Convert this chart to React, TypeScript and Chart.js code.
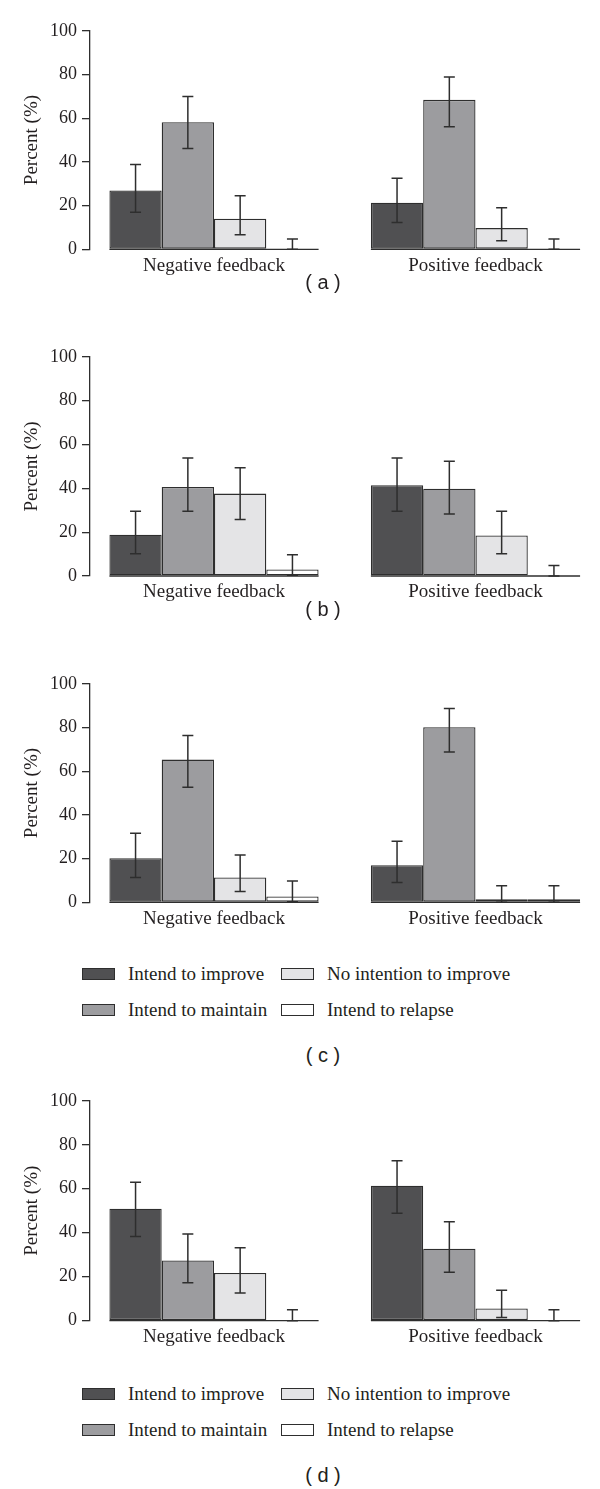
import React, { useEffect, useRef } from "react";
import { Chart, registerables } from "chart.js";

Chart.register(...registerables);

// ---------- data ----------
const categories = ["Negative feedback", "Positive feedback"];
const seriesNames = ["Intend to improve", "Intend to maintain", "No intention to improve", "Intend to relapse"];
const seriesColors = ["#505052", "#9c9c9f", "#e4e4e6", "#ffffff"];
const yTicks = [0, 20, 40, 60, 80, 100];

// order of series in each row: improve, maintain, no intention, relapse; each [negative, positive]
const valuesA = [[26.9, 21.3], [58.2, 68.4], [14.0, 9.7], [0, 0]];
const lowA = [[16.9, 12.3], [46.1, 56.1], [6.7, 3.9], [0, 0]];
const highA = [[38.8, 32.5], [69.9, 78.9], [24.5, 19.0], [4.7, 4.7]];

const valuesB = [[18.8, 41.4], [40.6, 39.8], [37.6, 18.5], [3.0, 0]];
const lowB = [[10.2, 29.5], [29.5, 28.3], [25.8, 10.1], [0.3, 0]];
const highB = [[29.5, 53.8], [53.8, 52.3], [49.4, 29.5], [9.7, 4.8]];

const valuesC = [[20.2, 17.0], [65.3, 80.1], [11.4, 1.4], [2.7, 1.4]];
const lowC = [[11.4, 9.1], [52.6, 68.8], [5.0, 0], [0.3, 0]];
const highC = [[31.6, 27.9], [76.3, 88.7], [21.6, 7.6], [9.7, 7.6]];

const valuesD = [[50.9, 61.4], [27.4, 32.7], [21.7, 5.6], [0, 0]];
const lowD = [[38.3, 48.9], [17.3, 22.0], [12.6, 1.4], [0, 0]];
const highD = [[63.0, 72.7], [39.4, 45.0], [33.2, 13.8], [5.0, 5.0]];

// ---------- layout ----------
const SERIF = "'Liberation Serif', 'DejaVu Serif', serif";
const SANS = "'Liberation Sans', Arial, sans-serif";
const INK = "#231f20";
const LINE = "#2e2e2e";
const GROUP_PCT = 0.8;
const X_MIN = -0.4742;
const X_MAX = 1.4379;
const PAD_TOP = 15;
const X_AXIS_H = 40;

const panels = [
  { values: valuesA, low: lowA, high: highA, plotTop: 30, plotBottom: 249.3, label: "( a )", labelBase: 289, legend: null },
  { values: valuesB, low: lowB, high: highB, plotTop: 356, plotBottom: 576, label: "( b )", labelBase: 616, legend: null },
  { values: valuesC, low: lowC, high: highC, plotTop: 683.3, plotBottom: 902.3, label: "( c )", labelBase: 1062, legend: 980.7 },
  { values: valuesD, low: lowD, high: highD, plotTop: 1100.7, plotBottom: 1320.7, label: "( d )", labelBase: 1482, legend: 1400.7 },
];

const axisSegmentsPlugin = {
  id: "axisSegments",
  afterDatasetsDraw(chart: any) {
    const { ctx, scales } = chart;
    const x = scales.x;
    const y = scales.y;
    const unit = x.getPixelForValue(1) - x.getPixelForValue(0);
    const half = (unit * GROUP_PCT) / 2;
    const y0 = y.getPixelForValue(0);
    ctx.save();
    ctx.strokeStyle = LINE;
    ctx.lineWidth = 1.3;
    categories.forEach((_, i) => {
      const cx = x.getPixelForValue(i);
      ctx.beginPath();
      ctx.moveTo(cx - half, y0);
      ctx.lineTo(cx + half, y0);
      ctx.stroke();
    });
    ctx.restore();
  },
};

const errorBarsPlugin = {
  id: "errorBars",
  afterDatasetsDraw(chart: any) {
    const { ctx, scales } = chart;
    const y = scales.y;
    ctx.save();
    ctx.strokeStyle = LINE;
    ctx.lineWidth = 1.5;
    chart.data.datasets.forEach((ds: any, di: number) => {
      const meta = chart.getDatasetMeta(di);
      meta.data.forEach((bar: any, i: number) => {
        const yl = y.getPixelForValue(ds.errLow[i]);
        const yh = y.getPixelForValue(ds.errHigh[i]);
        const cx = bar.x;
        const cap = 5.5;
        ctx.beginPath();
        ctx.moveTo(cx, yl);
        ctx.lineTo(cx, yh);
        ctx.moveTo(cx - cap, yh);
        ctx.lineTo(cx + cap, yh);
        ctx.moveTo(cx - cap, yl);
        ctx.lineTo(cx + cap, yl);
        ctx.stroke();
      });
    });
    ctx.restore();
  },
};

function Panel({ p }: { p: any }) {
  const ref = useRef<HTMLCanvasElement>(null);
  const canvasTop = Math.floor(p.plotTop - PAD_TOP);
  const padTop = p.plotTop - canvasTop;
  const plotH = p.plotBottom - p.plotTop;
  const height = Math.ceil(padTop + plotH + X_AXIS_H);
  const xAxisH = height - padTop - plotH;

  useEffect(() => {
    const datasets = seriesNames.map((name, s) => ({
      label: name,
      data: categories.map((_, i) => ({ x: i, y: p.values[s][i] })),
      errLow: p.low[s],
      errHigh: p.high[s],
      backgroundColor: seriesColors[s],
      borderColor: LINE,
      borderWidth: 1.3,
      borderSkipped: false,
      categoryPercentage: GROUP_PCT,
      barPercentage: 1,
    }));
    const chart = new Chart(ref.current as HTMLCanvasElement, {
      type: "bar",
      data: { datasets } as any,
      plugins: [axisSegmentsPlugin, errorBarsPlugin],
      options: {
        animation: false,
        responsive: false,
        maintainAspectRatio: false,
        layout: { padding: { top: padTop, right: 10, bottom: 0, left: 0 } },
        plugins: { legend: { display: false }, tooltip: { enabled: false } },
        scales: {
          x: {
            type: "linear",
            min: X_MIN,
            max: X_MAX,
            bounds: "data",
            offset: false,
            afterBuildTicks: (s: any) => {
              s.ticks = categories.map((_, i) => ({ value: i }));
            },
            afterFit: (s: any) => {
              s.height = xAxisH;
            },
            grid: { display: false, drawTicks: false, tickLength: 0 },
            border: { display: false },
            ticks: {
              autoSkip: false,
              maxRotation: 0,
              padding: 5,
              color: INK,
              font: { family: SERIF, size: 19 },
              callback: (v: any) => categories[v] ?? "",
            },
          },
          y: {
            min: 0,
            max: 100,
            afterBuildTicks: (s: any) => {
              s.ticks = yTicks.map((v) => ({ value: v }));
            },
            afterFit: (s: any) => {
              s.width = 90;
            },
            grid: { drawOnChartArea: false, drawTicks: true, tickLength: 8, color: LINE, lineWidth: 1.3 },
            border: { display: true, color: LINE, width: 1.3 },
            ticks: { padding: 5, color: INK, font: { family: SERIF, size: 18 } },
            title: {
              display: true,
              text: "Percent (%)",
              color: INK,
              font: { family: SERIF, size: 19 },
              padding: { top: 21, bottom: 0 },
            },
          },
        },
      } as any,
    });
    return () => chart.destroy();
  }, []);

  return (
    <canvas
      ref={ref}
      width={600}
      height={height}
      style={{ position: "absolute", left: 0, top: canvasTop, width: 600, height }}
    />
  );
}

function Legend({ base }: { base: number }) {
  const cols = [82, 281];
  const order = [0, 2, 1, 3];
  return (
    <>
      {order.map((s, k) => {
        const col = k % 2;
        const row = Math.floor(k / 2);
        const b = base + row * 36;
        return (
          <React.Fragment key={s}>
            <div
              style={{
                position: "absolute",
                left: cols[col],
                top: b - 12.5,
                width: 33,
                height: 12,
                boxSizing: "border-box",
                border: `1px solid ${LINE}`,
                background: seriesColors[s],
              }}
            />
            <div
              style={{
                position: "absolute",
                left: cols[col] + 46,
                top: b - 18.4,
                fontFamily: SERIF,
                fontSize: 19,
                lineHeight: "24px",
                color: INK,
                whiteSpace: "nowrap",
              }}
            >
              {seriesNames[s]}
            </div>
          </React.Fragment>
        );
      })}
    </>
  );
}

export default function App() {
  return (
    <div style={{ position: "absolute", left: 0, top: 0, width: 600, height: 1489, background: "#fff", overflow: "hidden" }}>
      {panels.map((p, i) => (
        <React.Fragment key={i}>
          <Panel p={p} />
          {p.legend !== null && <Legend base={p.legend as number} />}
          <div
            style={{
              position: "absolute",
              left: 323,
              top: p.labelBase - 20.3,
              transform: "translateX(-50%)",
              fontFamily: SANS,
              fontSize: 20,
              lineHeight: "26px",
              color: INK,
              whiteSpace: "pre",
            }}
          >
            {p.label}
          </div>
        </React.Fragment>
      ))}
    </div>
  );
}
